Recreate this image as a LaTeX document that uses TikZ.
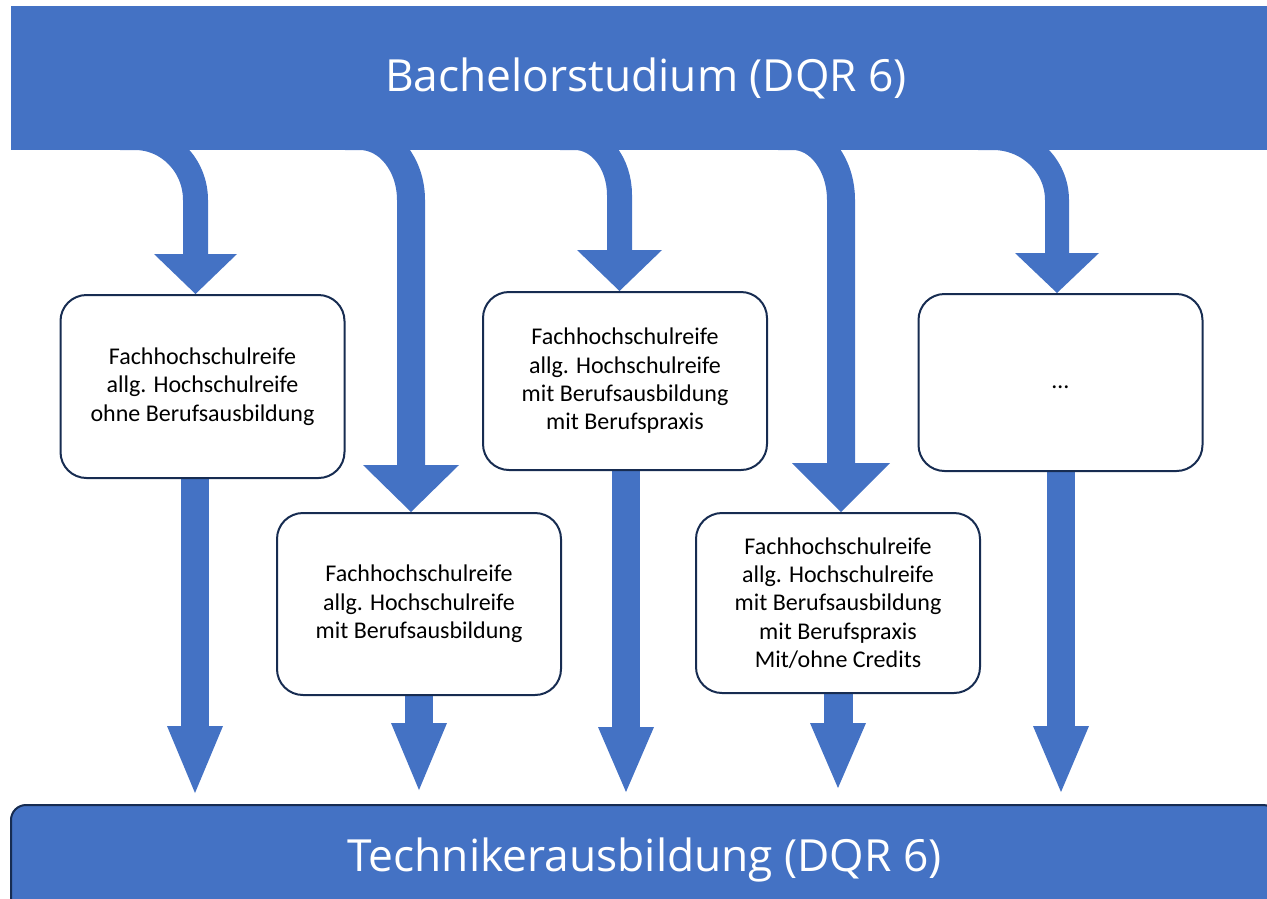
\documentclass[tikz,border=0pt]{standalone}
\usepackage{fontspec}
\setmainfont{Carlito}
\newfontfamily\titlefont{Open Sans}
\usepackage{tikz}
\usetikzlibrary{arrows.meta,backgrounds}
\usepackage{xcolor}

\definecolor{flowblue}{HTML}{4472C4}
\definecolor{boxnavy}{HTML}{172C51}

\tikzset{
  stage/.style={draw=boxnavy, line width=2pt, fill=white, rounded corners=26pt,
    minimum width=284pt, align=center, inner sep=0pt,
    font=\fontsize{24}{28.3}\selectfont},
  bar/.style={fill=flowblue, text=white, inner sep=0pt,
    font=\titlefont\fontsize{44.3}{50}\selectfont},
  flow/.style={draw=flowblue},
}

\begin{document}
\begin{tikzpicture}[x=1pt, y=-1pt]
\useasboundingbox (0,0) rectangle (1267,898);

\node[bar, minimum width=1256pt, minimum height=144pt] (bach) at (639,78) {\raisebox{-3pt}{\hspace*{14pt}Bachelorstudium (DQR 6)}};
\node[bar, draw=boxnavy, line width=2pt, rounded corners=15pt, minimum width=1267pt, minimum height=110pt] (tech) at (644.5,860) {Technikerausbildung (DQR 6)};

\node[stage, minimum height=183pt] (b1) at (202.5,386.5) {Fachhochschulreife\\allg. Hochschulreife\\ohne Berufsausbildung};
\node[stage, minimum height=182pt] (b2) at (419,604) {Fachhochschulreife\\allg. Hochschulreife\\mit Berufsausbildung};
\node[stage, minimum height=178pt] (b3) at (625,381) {Fachhochschulreife\\allg. Hochschulreife\\mit Berufsausbildung\\mit Berufspraxis};
\node[stage, minimum height=180pt] (b4) at (838,603) {Fachhochschulreife\\allg. Hochschulreife\\mit Berufsausbildung\\mit Berufspraxis\\Mit/ohne Credits};
\node[stage, minimum height=177pt] (b5) at (1060.5,382.5) {\vphantom{Ag}…};

% bends below the top bar
\coordinate (s1) at (135,137.5);  \coordinate (k1) at (195.5,200);
\coordinate (s2) at (360,136);    \coordinate (k2) at (411,200);
\coordinate (s3) at (575,137.5);  \coordinate (k3) at (619.5,195);
\coordinate (s4) at (793,136);    \coordinate (k4) at (841,200);
\coordinate (s5) at (993,138);    \coordinate (k5) at (1057,200);
% tips above the bottom bar
\coordinate (d1) at (195,793);
\coordinate (d2) at (419,790);
\coordinate (d3) at (626,792);
\coordinate (d4) at (838,788);
\coordinate (d5) at (1061,792);

\begin{scope}[on background layer]
\draw[flow, line width=25pt, -{Triangle[width=83pt,length=40pt,line width=0pt]}]
  ([xshift=-15pt]s1) -- (s1) .. controls +(33.4,0) and +(0,-34.5) .. (k1) -- (k1 |- b1.north);
\draw[flow, line width=28pt, -{Triangle[width=96pt,length=47pt,line width=0pt]}]
  ([xshift=-15pt]s2) -- (s2) .. controls +(28.2,0) and +(0,-35.3) .. (k2) -- (k2 |- b2.north);
\draw[flow, line width=25pt, -{Triangle[width=85pt,length=41pt,line width=0pt]}]
  ([xshift=-15pt]s3) -- (s3) .. controls +(24.6,0) and +(0,-31.7) .. (k3) -- (k3 |- b3.north);
\draw[flow, line width=28pt, -{Triangle[width=98pt,length=49pt,line width=0pt]}]
  ([xshift=-15pt]s4) -- (s4) .. controls +(26.5,0) and +(0,-35.3) .. (k4) -- (k4 |- b4.north);
\draw[flow, line width=24pt, -{Triangle[width=84pt,length=40pt,line width=0pt]}]
  ([xshift=-15pt]s5) -- (s5) .. controls +(35.3,0) and +(0,-34.2) .. (k5) -- (k5 |- b5.north);

\draw[flow, line width=28pt, -{Triangle[width=56pt,length=67pt,line width=0pt]}] (d1 |- b1.south) -- (d1);
\draw[flow, line width=28pt, -{Triangle[width=56pt,length=67pt,line width=0pt]}] (d2 |- b2.south) -- (d2);
\draw[flow, line width=28pt, -{Triangle[width=56pt,length=65pt,line width=0pt]}] (d3 |- b3.south) -- (d3);
\draw[flow, line width=29pt, -{Triangle[width=56pt,length=65pt,line width=0pt]}] (d4 |- b4.south) -- (d4);
\draw[flow, line width=28pt, -{Triangle[width=56pt,length=66pt,line width=0pt]}] (d5 |- b5.south) -- (d5);
\end{scope}
\end{tikzpicture}
\end{document}
